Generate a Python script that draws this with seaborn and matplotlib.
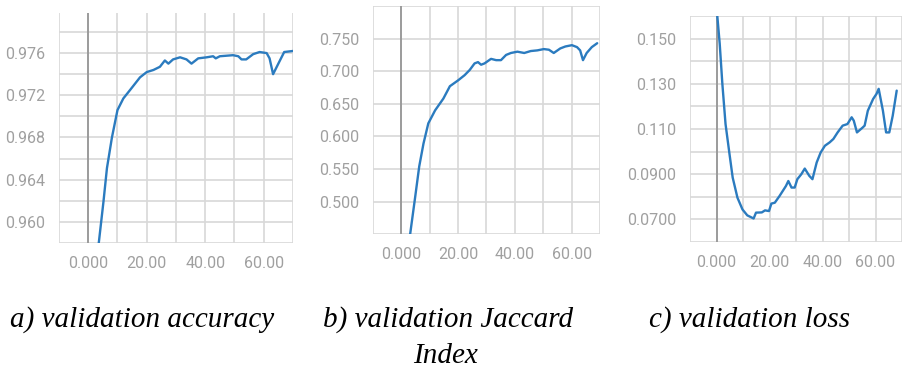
import numpy as np
import pandas as pd
import matplotlib
matplotlib.use("Agg")
import matplotlib.pyplot as plt
import seaborn as sns

# ── data ──────────────────────────────────────────────────
acc_epoch = [3.0, 3.6, 5.2, 6.4, 8.1, 10.0, 12.0, 14.3, 17.7, 20.0, 22.3, 24.5,
             26.2, 27.4, 29.0, 31.4, 33.6, 35.3, 37.6, 40.5, 42.7, 43.6, 45.0,
             49.5, 51.3, 52.4, 54.0, 56.4, 58.6, 61.0, 62.0, 63.2, 65.0, 67.0, 70.0]
acc_value = [0.9560, 0.9580, 0.9619, 0.9651, 0.9680, 0.9706, 0.9717, 0.9725,
             0.9737, 0.9742, 0.9744, 0.9747, 0.9753, 0.9750, 0.9754, 0.9756,
             0.9754, 0.9750, 0.9755, 0.9756, 0.9757, 0.9755, 0.9757, 0.9758,
             0.9757, 0.9754, 0.9754, 0.9759, 0.9761, 0.9760, 0.9755, 0.9740,
             0.9750, 0.9761, 0.9762]

jac_epoch = [2.8, 3.1, 4.9, 6.3, 7.8, 9.5, 11.9, 14.8, 17.1, 20.0, 22.3, 24.1,
             25.8, 27.0, 28.1, 29.3, 31.6, 33.4, 35.1, 36.9, 38.6, 40.9, 43.3,
             45.6, 47.9, 50.2, 52.0, 53.7, 56.0, 57.8, 60.1, 61.9, 63.0, 64.0,
             65.3, 67.1, 69.0]
jac_value = [0.435, 0.450, 0.508, 0.554, 0.589, 0.620, 0.640, 0.658, 0.677,
             0.686, 0.694, 0.702, 0.712, 0.714, 0.710, 0.712, 0.719, 0.717,
             0.717, 0.725, 0.728, 0.730, 0.728, 0.731, 0.732, 0.734, 0.733,
             0.728, 0.735, 0.738, 0.740, 0.737, 0.732, 0.717, 0.728, 0.737,
             0.743]

loss_epoch = [0.0, 1.2, 2.2, 3.4, 4.9, 6.1, 7.9, 9.8, 11.6, 14.0, 14.9, 17.1,
              18.3, 19.8, 20.7, 22.0, 23.8, 26.2, 27.1, 28.3, 29.5, 30.5, 32.0,
              33.3, 35.0, 36.2, 37.8, 39.3, 40.9, 42.7, 44.1, 45.7, 47.6, 49.4,
              51.0, 51.8, 53.0, 54.9, 55.9, 57.1, 59.1, 60.4, 61.2, 62.8, 64.0,
              65.2, 66.5, 68.0]
loss_value = [0.1640, 0.1478, 0.1300, 0.1122, 0.0989, 0.0885, 0.0796, 0.0744,
              0.0718, 0.0704, 0.0730, 0.0731, 0.0740, 0.0737, 0.0770, 0.0774,
              0.0804, 0.0848, 0.0870, 0.0841, 0.0841, 0.0878, 0.0900, 0.0925,
              0.0893, 0.0878, 0.0952, 0.0996, 0.1026, 0.1041, 0.1056, 0.1085,
              0.1115, 0.1122, 0.1152, 0.1137, 0.1085, 0.1104, 0.1115, 0.1181,
              0.1233, 0.1256, 0.1278, 0.1181, 0.1085, 0.1085, 0.1159, 0.1270]

captions = ["a) validation accuracy", "b) validation Jaccard\nIndex", "c) validation loss"]

LINE = "#2b7bbf"
GRID = "#d8d8d8"
TXT = "#a0a0a0"

sns.set_style("white")
plt.rcParams['font.family'] = ['Roboto', 'DejaVu Sans']

fig = plt.figure(figsize=(9.02, 3.71), dpi=100)


def panel(rect, xs, ys, xlim, ylim, yticks, ylabels, ylines):
    ax = fig.add_axes(rect)
    df = pd.DataFrame({"epoch": xs, "value": ys})
    sns.lineplot(data=df, x="epoch", y="value", ax=ax, color=LINE, lw=1.7,
                 zorder=3)
    ax.set_xlim(*xlim)
    ax.set_ylim(*ylim)
    # vertical grid every 10, labels on 0/20/40/60
    ax.set_xticks([0, 20, 40, 60])
    ax.set_xticklabels(["0.000", "20.00", "40.00", "60.00"])
    ax.set_xticks([-10, 10, 30, 50, 70], minor=True)
    ax.set_yticks(yticks)
    ax.set_yticklabels(ylabels)
    ax.set_yticks(ylines, minor=True)
    for v in [-10, 0, 10, 20, 30, 40, 50, 60, 70]:
        ax.axvline(v, color=GRID, lw=1.2, zorder=1)
    for v in list(yticks) + list(ylines):
        ax.axhline(v, color=GRID, lw=1.2, zorder=1)
    ax.axvline(0, color="#8a8a8a", lw=1.1, zorder=2)
    ax.tick_params(axis="x", which="major", length=0, pad=9,
                   labelsize=11.5, labelcolor=TXT)
    ax.tick_params(axis="x", which="minor", length=5, color=GRID, width=1.2)
    ax.tick_params(axis="y", which="both", length=6, color=GRID, width=1.2,
                   pad=4, labelsize=11.5, labelcolor=TXT)
    for s in ax.spines.values():
        s.set_visible(False)
    ax.set_xlabel("")
    ax.set_ylabel("")
    return ax


panel([0.0654, 0.345, 0.2594, 0.62], acc_epoch, acc_value, (-10, 70),
      (0.958, 0.9798),
      [0.960, 0.964, 0.968, 0.972, 0.976],
      ["0.960", "0.964", "0.968", "0.972", "0.976"],
      [0.958, 0.962, 0.966, 0.970, 0.974, 0.978])

panel([0.4135, 0.369, 0.2517, 0.6146], jac_epoch, jac_value, (-10, 68.5),
      (0.45, 0.80),
      [0.50, 0.55, 0.60, 0.65, 0.70, 0.75],
      ["0.500", "0.550", "0.600", "0.650", "0.700", "0.750"],
      [0.45, 0.80])

panel([0.765, 0.3477, 0.235, 0.609], loss_epoch, loss_value, (-10, 67.6),
      (0.06, 0.16),
      [0.07, 0.09, 0.11, 0.13, 0.15],
      ["0.0700", "0.0900", "0.110", "0.130", "0.150"],
      [0.06, 0.08, 0.10, 0.12, 0.14, 0.16])

cap_font = dict(family="Liberation Serif", style="italic", fontsize=21,
                color="black")
fig.text(10 / 902, 1 - 320 / 371, captions[0], ha="left", va="center", **cap_font)
b_line1, b_line2 = captions[1].split("\n")
fig.text(448 / 902, 1 - 320 / 371, b_line1, ha="center", va="center", **cap_font)
fig.text(445 / 902, 1 - 356 / 371, b_line2, ha="center", va="center", **cap_font)
fig.text(750 / 902, 1 - 320 / 371, captions[2], ha="center", va="center", **cap_font)

fig.savefig("out.png", dpi=100)
